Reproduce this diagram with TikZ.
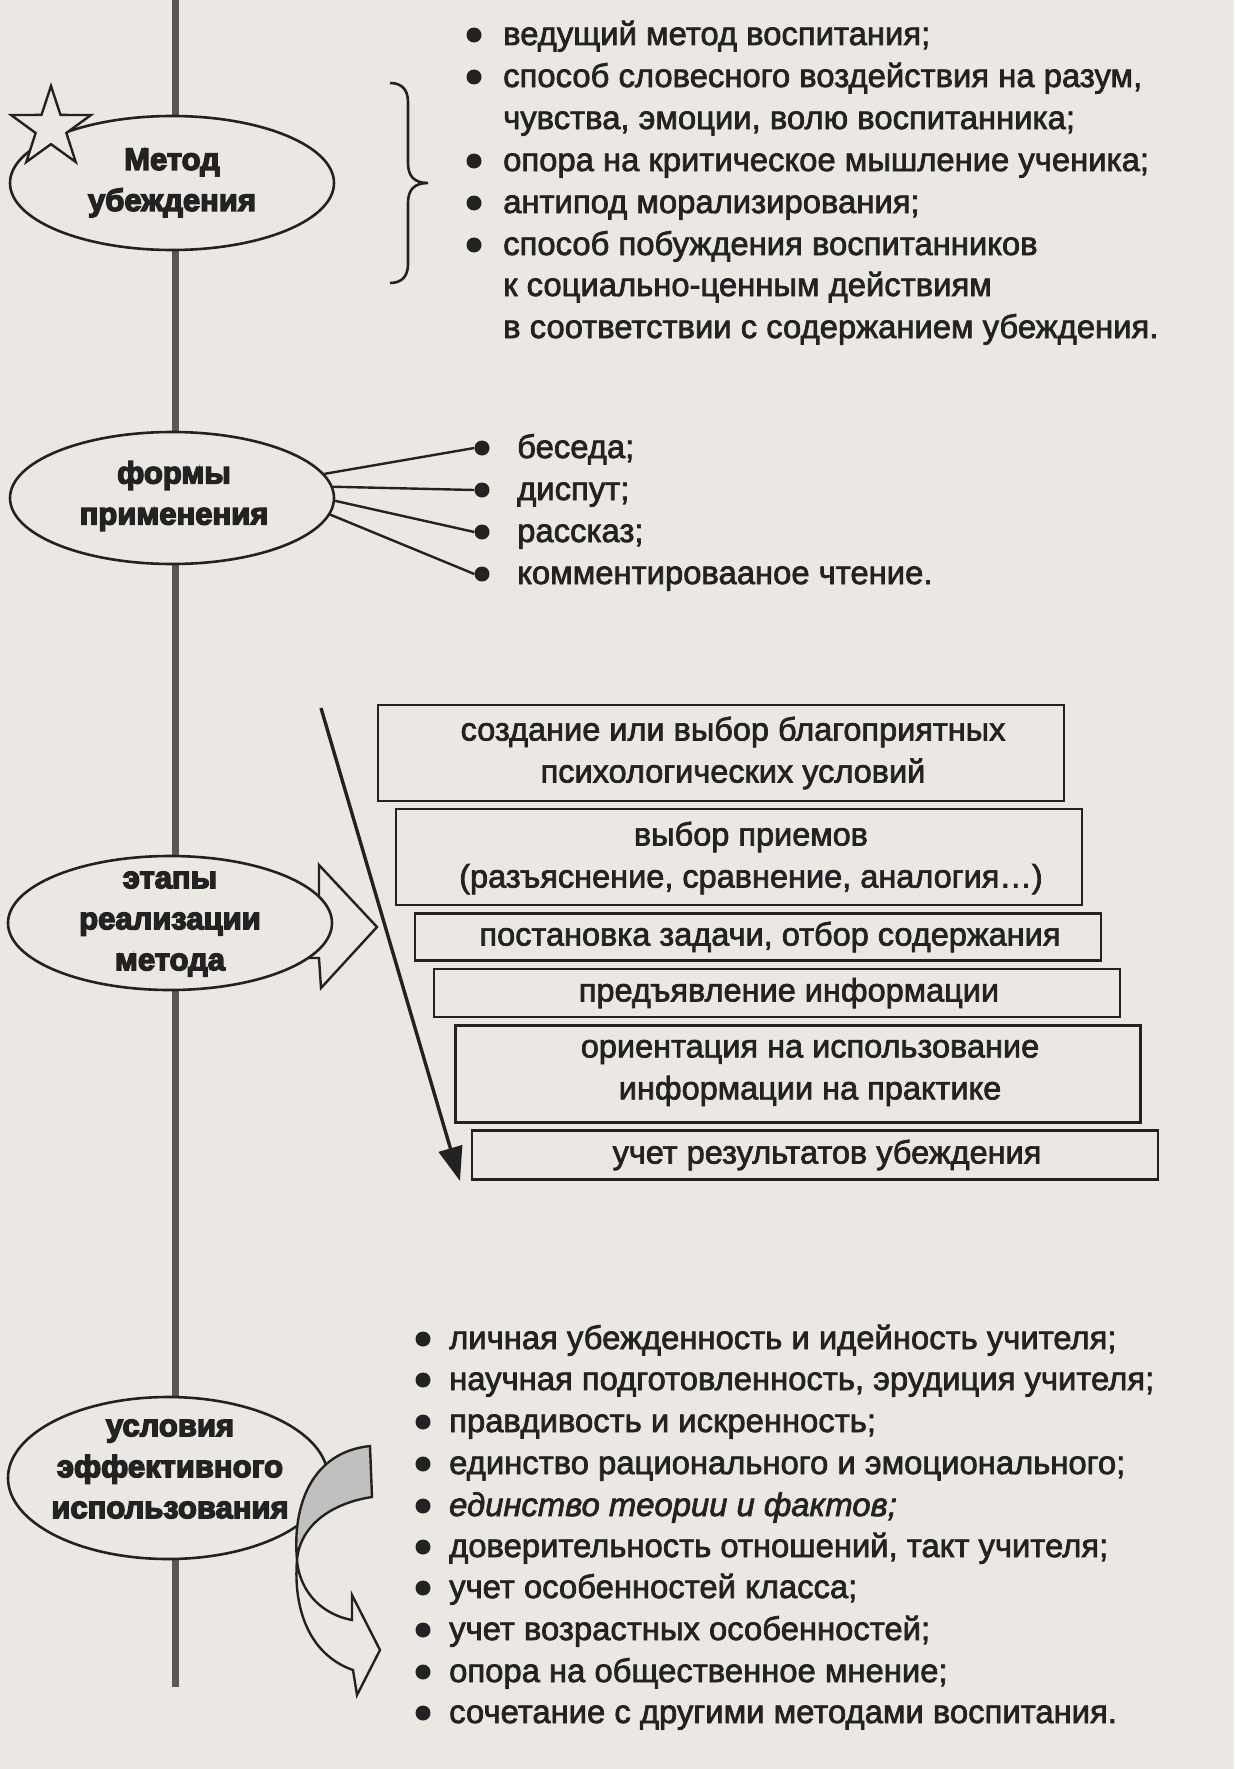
\documentclass[tikz,border=0pt]{standalone}
\usepackage{fontspec}
\setmainfont{Liberation Sans}
\newfontfamily\bodyfont{Liberation Sans}[FakeBold=2.2]
\newfontfamily\headfont{Liberation Sans}[UprightFont={* Bold}, FakeBold=4.5]
\usetikzlibrary{shapes.geometric,arrows.meta}
\definecolor{paper}{RGB}{235,232,227}
\definecolor{ink}{RGB}{34,34,34}
\definecolor{stem}{RGB}{88,88,88}
\definecolor{shade}{RGB}{192,192,190}
\begin{document}
\begin{tikzpicture}[x=1pt,y=-1pt,
  oval/.style={ellipse, draw=ink, line width=2.6pt, fill=paper, inner sep=0pt},
  head/.style={font=\headfont\fontsize{31}{41}\selectfont, text=ink, align=center, inner sep=0pt},
  item/.style={font=\bodyfont\fontsize{32.8}{42}\selectfont, text=ink, anchor=base west, inner sep=0pt},
  dot/.style={circle, fill=ink, minimum size=15pt, inner sep=0pt},
  stagebox/.style={rectangle, draw=ink, line width=2.8pt, fill=paper, inner sep=0pt},
  stagetext/.style={font=\bodyfont\fontsize{32.5}{42}\selectfont, text=ink, align=center, inner sep=0pt},
  wire/.style={draw=ink, line width=2.4pt},
  blockarrow/.style={draw=ink, line width=2.4pt, line join=miter},
]
\fill[paper] (0,0) rectangle (1234,1769);
\useasboundingbox (0,0) rectangle (1234,1769);

% stem
\coordinate (stemtop) at (175,0);
\coordinate (stembot) at (175,1687);
\draw[stem, line width=7pt] (stemtop) -- (stembot);

% ---------- block 1 ----------
\node[oval, minimum width=324pt, minimum height=134pt] (e1) at (172,183) {};
\node[head] (h1) at (172,183) {Метод\\убеждения};
\node[star, star points=5, star point ratio=2.6, minimum size=84pt, inner sep=0pt,
      draw=ink, line width=2.4pt, fill=paper] (star) at (51,128) {};
\draw[ink, line width=2.6pt] (390,83) .. controls (402,83) and (408,90) .. (408,102)
   -- (408,163) .. controls (408,176) and (414,183) .. (428,183)
   .. controls (414,183) and (408,190) .. (408,203)
   -- (408,264) .. controls (408,276) and (402,283) .. (390,283);

\node[dot] (d1) at (474,35) {};
\node[item] (t1) at (503,45) {ведущий метод воспитания;};
\node[dot] (d2) at (474,77) {};
\node[item] (t2) at (503,87) {способ словесного воздействия на разум,};
\node[item] (t2b) at (503,129) {чувства, эмоции, волю воспитанника;};
\node[dot] (d3) at (474,161) {};
\node[item] (t3) at (503,171) {опора на критическое мышление ученика;};
\node[dot] (d4) at (474,203) {};
\node[item] (t4) at (503,213) {антипод морализирования;};
\node[dot] (d5) at (474,245) {};
\node[item] (t5) at (503,255) {способ побуждения воспитанников};
\node[item] (t5b) at (503,296) {к социально-ценным действиям};
\node[item] (t5c) at (503,338) {в соответствии с содержанием убеждения.};

% ---------- block 2 ----------
\node[oval, minimum width=324pt, minimum height=132pt] (e2) at (172,498) {};
\node[head] (h2) at (174,496) {формы\\применения};
\node[dot] (f1) at (482,448) {};
\node[item] (g1) at (517,458) {беседа;};
\node[dot] (f2) at (482,490) {};
\node[item] (g2) at (517,500) {диспут;};
\node[dot] (f3) at (482,532) {};
\node[item] (g3) at (517,542) {рассказ;};
\node[dot] (f4) at (482,574) {};
\node[item] (g4) at (517,584) {комментировааное чтение.};
\draw[wire] (e2.9) -- (f1.west);
\draw[wire] (e2.4) -- (f2.west);
\draw[wire] (e2.-1) -- (f3.west);
\draw[wire] (e2.-6) -- (f4.west);

% ---------- block 3 ----------
\draw[blockarrow, fill=paper] (300,897) -- (319,897) -- (319,865) -- (377,927)
   -- (321,988) -- (319,958) -- (300,958) -- cycle;
\node[oval, minimum width=324pt, minimum height=134pt] (e3) at (170,923) {};
\node[head] (h3) at (170,924) {этапы\\реализации\\метода};

\node[stagebox, minimum width=686pt, minimum height=96pt] (b1) at (721,753) {};
\node[stagetext] (s1) at (733,753) {создание или выбор благоприятных\\психологических условий};
\node[stagebox, minimum width=686pt, minimum height=96pt] (b2) at (739,857) {};
\node[stagetext] (s2) at (751,858) {выбор приемов\\(разъяснение, сравнение, аналогия…)};
\node[stagebox, minimum width=686pt, minimum height=47pt] (b3) at (758,937) {};
\node[stagetext] (s3) at (770,937) {постановка задачи, отбор содержания};
\node[stagebox, minimum width=686pt, minimum height=48pt] (b4) at (777,993) {};
\node[stagetext] (s4) at (789,993) {предъявление информации};
\node[stagebox, minimum width=685pt, minimum height=97pt] (b5) at (798,1074) {};
\node[stagetext] (s5) at (810,1073) {ориентация на использование\\информации на практике};
\node[stagebox, minimum width=686pt, minimum height=49pt] (b6) at (815,1155) {};
\node[stagetext] (s6) at (827,1155) {учет результатов убеждения};

\coordinate (dstart) at (321,708);
\coordinate (dend) at (460,1181);
\draw[ink, line width=3.4pt, -{Triangle[length=34pt,width=24pt]}] (dstart) -- (dend);

% ---------- block 4 ----------
\node[oval, minimum width=320pt, minimum height=162pt] (e4) at (168,1478) {};
\node[head] (h4) at (170,1469) {условия\\эффективного\\использования};

\draw[blockarrow, fill=shade] (297,1560) .. controls (292,1505) and (312,1452) .. (370,1446)
   -- (372,1497) .. controls (332,1503) and (300,1525) .. (297,1560) -- cycle;
\draw[blockarrow, fill=paper] (297,1560) .. controls (300,1595) and (325,1615) .. (352,1620)
   -- (352,1595) -- (380,1650) -- (357,1695) -- (353,1670)
   .. controls (310,1655) and (293,1610) .. (297,1560) -- cycle;

\node[dot] (c1) at (423,1339) {};
\node[item] (u1) at (449,1349) {личная убежденность и идейность учителя;};
\node[dot] (c2) at (423,1380) {};
\node[item] (u2) at (449,1390) {научная подготовленность, эрудиция учителя;};
\node[dot] (c3) at (423,1422) {};
\node[item] (u3) at (449,1432) {правдивость и искренность;};
\node[dot] (c4) at (423,1464) {};
\node[item] (u4) at (449,1474) {единство рационального и эмоционального;};
\node[dot] (c5) at (423,1506) {};
\node[item, font=\bodyfont\fontsize{32.8}{42}\selectfont\itshape] (u5) at (449,1516) {единство теории и фактов;};
\node[dot] (c6) at (423,1547) {};
\node[item] (u6) at (449,1557) {доверительность отношений, такт учителя;};
\node[dot] (c7) at (423,1588) {};
\node[item] (u7) at (449,1598) {учет особенностей класса;};
\node[dot] (c8) at (423,1630) {};
\node[item] (u8) at (449,1640) {учет возрастных особенностей;};
\node[dot] (c9) at (423,1672) {};
\node[item] (u9) at (449,1682) {опора на общественное мнение;};
\node[dot] (c10) at (423,1713) {};
\node[item] (u10) at (449,1723) {сочетание с другими методами воспитания.};
\end{tikzpicture}
\end{document}
